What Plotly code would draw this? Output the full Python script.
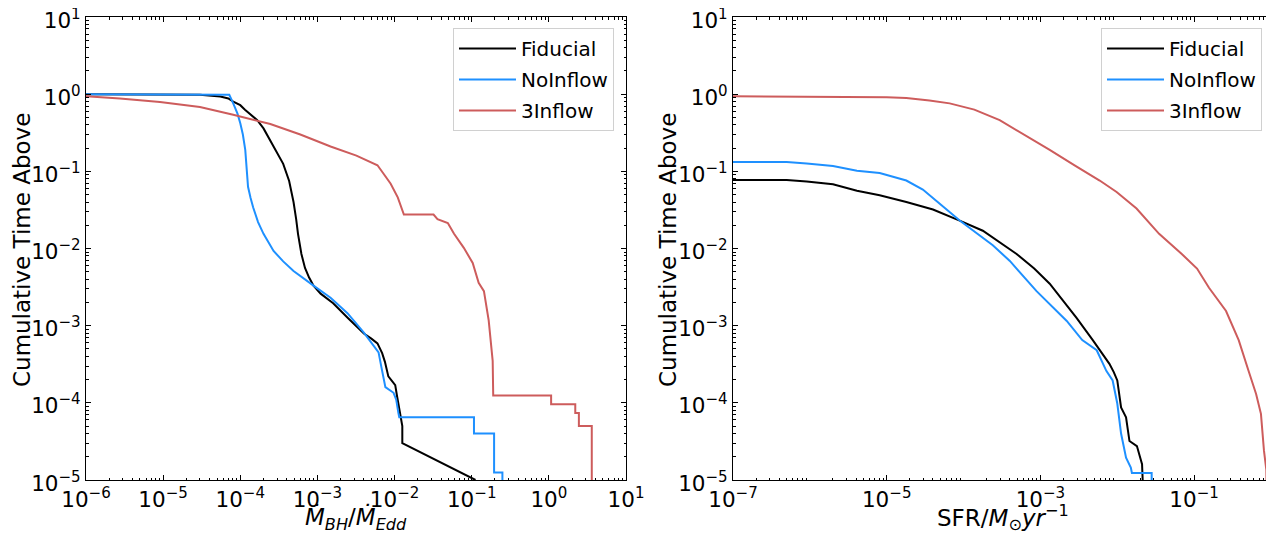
import plotly.graph_objects as go

# ---------------- data ----------------
# Left panel: x = Mdot_BH / Mdot_Edd, y = cumulative time above
bh_fid_x = [1e-6, 1.0e-5, 3.0e-5, 5.5e-5, 7.0e-5, 8.1e-5, 1.0e-4, 1.15e-4, 1.4e-4, 1.66e-4,
            2.0e-4, 2.45e-4, 3.0e-4, 3.6e-4, 4.3e-4, 4.9e-4, 5.3e-4, 5.6e-4, 6.2e-4, 6.9e-4,
            7.8e-4, 8.9e-4, 1.1e-3, 1.6e-3, 2.5e-3, 4.0e-3, 5.0e-3, 6.0e-3, 6.9e-3, 7.5e-3,
            8.3e-3, 9.2e-3, 1.02e-2, 1.08e-2, 1.12e-2, 1.2e-2, 1.26e-2, 1.26e-2, 0.112]
bh_fid_y = [1.0, 1.0, 0.98, 0.93, 0.88, 0.80, 0.72, 0.63, 0.54, 0.46,
            0.36, 0.25, 0.18, 0.125, 0.075, 0.04, 0.024, 0.0155, 0.0085, 0.0056,
            0.0042, 3.3e-3, 2.6e-3, 1.95e-3, 1.25e-3, 7.9e-4, 6.8e-4, 5.9e-4, 4.4e-4, 3.4e-4,
            2.2e-4, 1.9e-4, 1.7e-4, 1.2e-4, 9.8e-5, 6.5e-5, 5.0e-5, 3.0e-5, 1.0e-5]

bh_noin_x = [1e-6, 5.5e-5, 6.5e-5, 7.2e-5, 8.1e-5, 9.2e-5, 1.0e-4, 1.08e-4, 1.16e-4, 1.26e-4,
             1.36e-4, 1.47e-4, 1.7e-4, 2.0e-4, 2.7e-4, 3.6e-4, 4.9e-4, 6.5e-4, 8.9e-4, 1.48e-3,
             2.45e-3, 4.0e-3, 6.2e-3, 6.8e-3, 7.6e-3, 9.7e-3, 1.05e-2, 1.12e-2, 1.15e-2, 0.107,
             0.107, 0.195, 0.195, 0.25, 0.25]
bh_noin_y = [1.0, 1.0, 1.0, 0.98, 0.76, 0.56, 0.42, 0.30, 0.19, 0.063,
             0.045, 0.034, 0.022, 0.0155, 9.3e-3, 6.8e-3, 5.1e-3, 4.1e-3, 3.3e-3, 2.3e-3,
             1.45e-3, 8.1e-4, 4.5e-4, 2.8e-4, 1.6e-4, 1.35e-4, 1.1e-4, 7.4e-5, 6.5e-5, 6.5e-5,
             4.0e-5, 4.0e-5, 1.25e-5, 1.25e-5, 5e-6]

bh_3in_x = [1e-6, 2.75e-6, 9.1e-6, 3.0e-5, 8.1e-5, 2.45e-4, 6.0e-4, 1.48e-3, 3.2e-3, 6.0e-3,
            7.2e-3, 8.9e-3, 1.1e-2, 1.32e-2, 0.032, 0.036, 0.049, 0.059, 0.079, 0.103,
            0.123, 0.144, 0.166, 0.187, 0.19, 1.07, 1.07, 2.2, 2.2, 2.45, 2.45, 3.6, 3.6]
bh_3in_y = [0.94, 0.88, 0.79, 0.68, 0.54, 0.41, 0.30, 0.21, 0.16, 0.12,
            0.093, 0.069, 0.046, 0.0275, 0.0275, 0.024, 0.0214, 0.0155, 0.0102, 6.5e-3,
            3.6e-3, 2.8e-3, 1.17e-3, 3.5e-4, 1.24e-4, 1.24e-4, 9.6e-5, 9.6e-5, 7.4e-5, 7.4e-5,
            5.0e-5, 5.0e-5, 5e-6]

# Right panel: x = SFR / (Msun/yr)
sfr_fid_x = [1e-7, 5.0e-7, 9.1e-7, 2.0e-6, 4.1e-6, 8.1e-6, 1.8e-5, 4.0e-5, 8.9e-5, 1.78e-4,
             4.9e-4, 8.3e-4, 1.32e-3, 2.95e-3, 4.8e-3, 6.3e-3, 7.9e-3, 9.0e-3, 1.0e-2, 1.12e-2,
             1.3e-2, 1.44e-2, 0.018, 0.021, 0.022]
sfr_fid_y = [0.077, 0.077, 0.074, 0.068, 0.056, 0.049, 0.040, 0.032, 0.023, 0.017,
             8.5e-3, 5.5e-3, 3.5e-3, 1.26e-3, 6.5e-4, 4.5e-4, 3.2e-4, 2.5e-4, 1.95e-4, 8.7e-5,
             6.5e-5, 3.2e-5, 2.75e-5, 1.6e-5, 5e-6]

sfr_noin_x = [1e-7, 5.0e-7, 9.1e-7, 2.0e-6, 4.1e-6, 8.1e-6, 1.8e-5, 2.95e-5, 4.9e-5, 8.9e-5,
              2.4e-4, 4.0e-4, 8.9e-4, 2.2e-3, 3.5e-3, 5.4e-3, 7.2e-3, 8.7e-3, 1.0e-2, 1.12e-2,
              1.3e-2, 1.5e-2, 1.55e-2, 0.028, 0.028]
sfr_noin_y = [0.132, 0.132, 0.126, 0.117, 0.102, 0.095, 0.076, 0.058, 0.038, 0.023,
              0.011, 6.9e-3, 2.8e-3, 1.15e-3, 6.5e-4, 4.8e-4, 2.6e-4, 1.95e-4, 9.8e-5, 4.0e-5,
              1.95e-5, 1.45e-5, 1.23e-5, 1.23e-5, 5e-6]

sfr_3in_x = [1e-7, 9.1e-7, 5.0e-6, 1.0e-5, 1.8e-5, 3.6e-5, 6.6e-5, 1.38e-4, 2.95e-4, 6.2e-4,
             1.32e-3, 2.75e-3, 5.9e-3, 9.8e-3, 0.0178, 0.035, 0.069, 0.109, 0.156, 0.26,
             0.38, 0.51, 0.64, 0.74, 0.81, 0.87, 0.88]
sfr_3in_y = [0.94, 0.93, 0.92, 0.91, 0.89, 0.83, 0.76, 0.63, 0.46, 0.30,
             0.19, 0.12, 0.076, 0.054, 0.033, 0.0155, 8.5e-3, 5.5e-3, 3.1e-3, 1.55e-3,
             6.5e-4, 2.6e-4, 1.3e-4, 7.2e-5, 2.4e-5, 1.35e-5, 5e-6]

series_names = ["Fiducial", "NoInflow", "3Inflow"]
series_colors = ["#000000", "#1E90FF", "#CD5C5C"]

left_series = [(bh_fid_x, bh_fid_y), (bh_noin_x, bh_noin_y), (bh_3in_x, bh_3in_y)]
right_series = [(sfr_fid_x, sfr_fid_y), (sfr_noin_x, sfr_noin_y), (sfr_3in_x, sfr_3in_y)]

left_xticks_exp = [-6, -5, -4, -3, -2, -1, 0, 1]
right_xticks_exp = [-7, -5, -3, -1]
yticks_exp = [-5, -4, -3, -2, -1, 0, 1]

# ---------------- figure ----------------
# the page body adds an 8 px margin, so the figure is drawn 8 px in from the corner
OFF = 8
W, H = 1274 - OFF, 534 - OFF
FONT = "DejaVu Sans"
TICK_SIZE = 21.5
TITLE_SIZE = 23
LEG_SIZE = 20


def px_x(p):
    return (p - OFF) / W


def px_y(p):
    return 1 - (p - OFF) / H


fig = go.Figure()

for (x, y), name, col in zip(left_series, series_names, series_colors):
    fig.add_trace(go.Scatter(x=x, y=y, mode="lines", name=name,
                             line=dict(color=col, width=2), legendgroup="L" + name,
                             xaxis="x", yaxis="y", legend="legend"))
for (x, y), name, col in zip(right_series, series_names, series_colors):
    fig.add_trace(go.Scatter(x=x, y=y, mode="lines", name=name,
                             line=dict(color=col, width=2), legendgroup="R" + name,
                             xaxis="x2", yaxis="y2", legend="legend2"))


def tick_text(e):
    return "10<sup>" + (str(e) if e >= 0 else "\u2212" + str(-e)) + "</sup>"


def minor_vals(lo, hi):
    vals = []
    for e in range(lo, hi):
        for m in range(2, 10):
            vals.append(m * 10.0 ** e)
    return vals


def log_axis(exps, lo, hi, domain, anchor, shift=0):
    return dict(
        type="log", range=[lo, hi], domain=domain, anchor=anchor,
        automargin=False, ticklabeloverflow="allow", ticklabelshift=shift,
        tickmode="array", tickvals=[10.0 ** e for e in exps],
        ticktext=[tick_text(e) for e in exps],
        ticks="inside", ticklen=5, tickwidth=1, tickcolor="black",
        minor=dict(tickmode="array", tickvals=minor_vals(lo, hi), ticks="inside",
                   ticklen=2.5, tickcolor="black", tickwidth=0.8, showgrid=False),
        showline=True, linecolor="black", linewidth=1, mirror="ticks",
        showgrid=False, zeroline=False,
        tickfont=dict(family=FONT, size=TICK_SIZE, color="black"),
    )


ydom = [px_y(480), px_y(17)]
legend_common = dict(xanchor="right", y=px_y(28), yanchor="top",
                     bgcolor="white", bordercolor="#d0d0d0", borderwidth=1,
                     itemwidth=57, tracegroupgap=2,
                     font=dict(family=FONT, size=LEG_SIZE, color="black"))
fig.update_layout(
    template="none",
    width=W, height=H,
    margin=dict(l=0, r=0, t=0, b=0, pad=0, autoexpand=False),
    paper_bgcolor="white", plot_bgcolor="white",
    font=dict(family=FONT, size=20, color="black"),
    xaxis=log_axis(left_xticks_exp, -6, 1, [px_x(86), px_x(626)], "y"),
    yaxis=log_axis(yticks_exp, -5, 1, ydom, "x", shift=3),
    xaxis2=log_axis(right_xticks_exp, -7, 0, [px_x(733), px_x(1271)], "y2"),
    yaxis2=log_axis(yticks_exp, -5, 1, ydom, "x2", shift=3),
    legend=dict(x=px_x(614), **legend_common),
    legend2=dict(x=px_x(1262), **legend_common),
    showlegend=True,
)

annots = [
    dict(text="Cumulative Time Above", x=px_x(22), y=px_y(250), textangle=-90),
    dict(text="Cumulative Time Above", x=px_x(668), y=px_y(250), textangle=-90),
    dict(text="<i>\u1E40<sub>BH</sub></i>/<i>\u1E40<sub>Edd</sub></i>", x=px_x(356), y=px_y(518), textangle=0),
    dict(text="SFR/<i>M</i><sub>\u2299</sub><i>yr</i><sup>\u22121</sup>", x=px_x(1003), y=px_y(517), textangle=0),
]
for a in annots:
    fig.add_annotation(xref="paper", yref="paper", showarrow=False,
                       xanchor="center", yanchor="middle",
                       font=dict(family=FONT, size=TITLE_SIZE, color="black"), **a)

fig.write_html("out.html")
